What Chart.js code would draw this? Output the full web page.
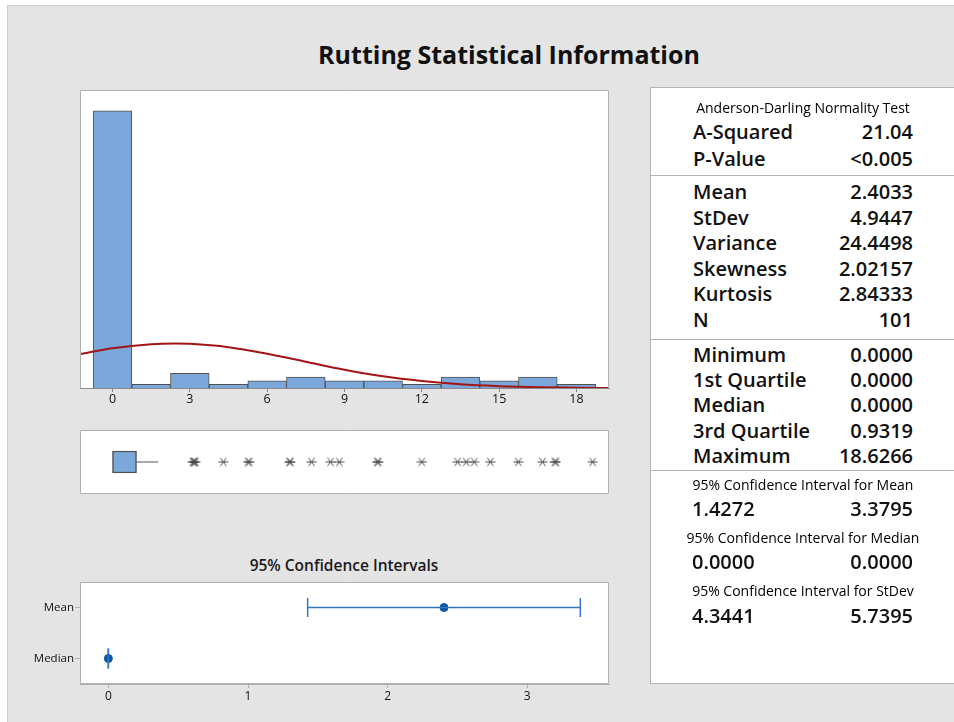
<!DOCTYPE html>
<html>
<head>
<meta charset="utf-8">
<title>Rutting Statistical Information</title>
<script src="https://cdn.jsdelivr.net/npm/chart.js@4.4.1/dist/chart.umd.min.js"></script>
<style>
  html, body { margin: 0; padding: 0; background: #fff; }
  body { position: relative; width: 954px; height: 722px; overflow: hidden; font-family: "Open Sans", sans-serif; color: #111; }
  #frame { position: absolute; left: 7px; top: 5px; width: 960px; height: 730px; background: #e4e4e4; border-left: 1px solid #cdcdcd; border-top: 1px solid #cdcdcd; }
  #title { position: absolute; left: 0; width: 1018px; top: 42px; text-align: center; font-size: 25px; font-weight: 700; line-height: 1; }
  #ciTitle { position: absolute; left: 144px; width: 400px; top: 558px; text-align: center; font-size: 15.5px; font-weight: 600; line-height: 1; color: #1a1a1a; }
  canvas { position: absolute; }
  #stats { position: absolute; left: 650px; top: 87px; width: 330px; height: 597px; box-sizing: border-box; background: #fff; border: 1px solid #b4b4b4; }
  .rule { position: absolute; left: 650px; width: 330px; height: 1px; background: #b4b4b4; }
  .stat { position: absolute; line-height: 1; white-space: nowrap; color: #000; }
  .big { font-weight: 600; color: #111; }
</style>
</head>
<body>
<div id="frame"></div>
<div id="title">Rutting Statistical Information</div>

<canvas id="histChart" width="550" height="340" style="left:70px; top:80px;"></canvas>
<canvas id="boxChart" width="550" height="75" style="left:70px; top:425px;"></canvas>
<div id="ciTitle">95% Confidence Intervals</div>
<canvas id="ciChart" width="620" height="135" style="left:0px; top:575px;"></canvas>

<div id="stats"></div>
<div class="rule" style="top:175px"></div>
<div class="rule" style="top:339px"></div>
<div class="rule" style="top:470px"></div>

<script>
// ---- summary numbers ----
const nObs = 101;
const mean = 2.4033;
const stDev = 4.9447;
const variance = 24.4498;
const skewness = 2.02157;
const kurtosis = 2.84333;
const aSquared = 21.04;
const pValue = '<0.005';
const minimum = 0.0;
const q1 = 0.0;
const median = 0.0;
const q3 = 0.9319;
const maximum = 18.6266;
const meanCI = [1.4272, 3.3795];
const medianCI = [0.0, 0.0];
const stDevCI = [4.3441, 5.7395];

// ---- histogram (bin width 1.5) ----
const binCenters = [0, 1.5, 3, 4.5, 6, 7.5, 9, 10.5, 12, 13.5, 15, 16.5, 18];
const binCounts = [76, 1, 4, 1, 2, 3, 2, 2, 1, 3, 2, 3, 1];
const histTicks = [0, 3, 6, 9, 12, 15, 18];

// fitted normal curve, in counts per bin
const fitX = [-1.26, 0, 1.5, 2.4, 3, 4.5, 6, 7.5, 9, 10.5, 12, 13.5, 15, 16.5, 18, 19.26];
const fitY = [9.3, 10.9, 12.0, 12.2, 12.1, 11.2, 9.4, 7.2, 5.0, 3.2, 1.9, 1.0, 0.5, 0.2, 0.1, 0.0];

// ---- boxplot ----
const whiskerHigh = 1.78;
const outliers = [3.12, 3.15, 3.18, 3.21, 4.30, 5.26, 5.30, 6.86, 6.90, 7.72, 8.46, 8.80,
                  10.27, 10.31, 12.00, 13.39, 13.72, 14.03, 14.66, 15.74, 16.68, 17.16, 17.20, maximum];

// ---- confidence interval plot ----
const ciRows = ['Mean', 'Median'];
const ciTicks = [0, 1, 2, 3];

const xRange = { min: -1.26, max: 19.26 };
const barBlue = '#7ba7da';
const edgeGrey = '#505050';
const frameGrey = '#b0b0b0';
const axisGrey = '#8a8a8a';

Chart.defaults.font.family = '"Open Sans", sans-serif';
Chart.defaults.color = '#111';

// white plot area with a thin frame, like the stats panel
const panelBox = {
  id: 'panelBox',
  beforeDraw(chart) {
    const a = chart.chartArea, ctx = chart.ctx;
    ctx.save();
    ctx.fillStyle = '#fff';
    ctx.fillRect(a.left, a.top, a.right - a.left, a.bottom - a.top);
    ctx.restore();
  },
  afterDraw(chart, args, opts) {
    const a = chart.chartArea, ctx = chart.ctx;
    ctx.save();
    ctx.strokeStyle = frameGrey;
    ctx.lineWidth = 1;
    ctx.beginPath();
    ctx.moveTo(a.left + 0.5, opts.closed ? a.bottom - 0.5 : a.bottom);
    ctx.lineTo(a.left + 0.5, a.top + 0.5);
    ctx.lineTo(a.right - 0.5, a.top + 0.5);
    ctx.lineTo(a.right - 0.5, opts.closed ? a.bottom - 0.5 : a.bottom);
    if (opts.closed) ctx.closePath();
    ctx.stroke();
    ctx.restore();
  }
};

// Minitab style asterisk for outliers
function makeAsterisk() {
  const c = document.createElement('canvas');
  c.width = 11; c.height = 11;
  const g = c.getContext('2d');
  g.strokeStyle = '#4a4a4a';
  g.lineWidth = 1;
  g.beginPath();
  g.moveTo(0.5, 5.5); g.lineTo(10.5, 5.5);
  g.moveTo(2.5, 1.5); g.lineTo(8.5, 9.5);
  g.moveTo(8.5, 1.5); g.lineTo(2.5, 9.5);
  g.stroke();
  return c;
}

const fixedTicks = list => scale => { scale.ticks = list.map(v => ({ value: v })); };

// ---- histogram with normal fit ----
new Chart(document.getElementById('histChart'), {
  type: 'bar',
  data: {
    datasets: [
      {
        type: 'line',
        data: fitX.map((x, i) => ({ x, y: fitY[i] })),
        borderColor: '#a31515',
        borderWidth: 2,
        pointRadius: 0,
        cubicInterpolationMode: 'monotone',
        order: 0
      },
      {
        type: 'bar',
        data: binCenters.map((x, i) => ({ x, y: binCounts[i] })),
        backgroundColor: barBlue,
        borderColor: edgeGrey,
        borderWidth: 1,
        barPercentage: 1,
        categoryPercentage: 1,
        order: 1
      }
    ]
  },
  options: {
    responsive: false,
    animation: false,
    devicePixelRatio: 1,
    layout: { autoPadding: false, padding: { left: 10, right: 11, top: 10, bottom: 0 } },
    plugins: { legend: { display: false }, tooltip: { enabled: false }, panelBox: { closed: false } },
    scales: {
      x: {
        type: 'linear',
        offset: false,
        min: xRange.min,
        max: xRange.max,
        afterBuildTicks: fixedTicks(histTicks),
        afterFit: s => { s.height = 32; },
        grid: { drawOnChartArea: false, offset: false, tickLength: 4, color: axisGrey },
        border: { color: axisGrey },
        ticks: { font: { size: 12.5 }, color: '#111', padding: 0 }
      },
      y: { display: false, min: 0, max: 81.7 }
    }
  },
  plugins: [panelBox]
});

// ---- boxplot ----
new Chart(document.getElementById('boxChart'), {
  type: 'bar',
  data: {
    labels: ['Rutting'],
    datasets: [
      {
        type: 'scatter',
        data: outliers.map(v => ({ x: v, y: 'Rutting' })),
        pointStyle: makeAsterisk(),
        pointRadius: 5,
        order: 0
      },
      {
        type: 'line',
        data: [{ x: q3, y: 'Rutting' }, { x: whiskerHigh, y: 'Rutting' }],
        borderColor: '#555',
        borderWidth: 1,
        pointRadius: 0,
        order: 1
      },
      {
        type: 'bar',
        data: [[q1, q3]],
        backgroundColor: barBlue,
        borderColor: edgeGrey,
        borderWidth: 1.5,
        borderSkipped: false,
        barThickness: 22,
        order: 2
      }
    ]
  },
  options: {
    indexAxis: 'y',
    responsive: false,
    animation: false,
    devicePixelRatio: 1,
    layout: { autoPadding: false, padding: { left: 10, right: 11, top: 5, bottom: 6 } },
    plugins: { legend: { display: false }, tooltip: { enabled: false }, panelBox: { closed: true } },
    scales: {
      x: { type: 'linear', offset: false, min: xRange.min, max: xRange.max, display: false },
      y: { type: 'category', display: false }
    }
  },
  plugins: [panelBox]
});

// ---- 95% confidence intervals ----
const ciBlue = '#3576c4';
const capStyle = { pointStyle: 'line', rotation: 90, pointRadius: 9.5, pointBorderColor: ciBlue, pointBorderWidth: 1.5 };

new Chart(document.getElementById('ciChart'), {
  type: 'line',
  data: {
    datasets: [
      Object.assign({ data: meanCI.map(x => ({ x, y: 'Mean' })), borderColor: ciBlue, borderWidth: 1.5 }, capStyle),
      Object.assign({ data: medianCI.map(x => ({ x, y: 'Median' })), borderColor: ciBlue, borderWidth: 1.5 }, capStyle, { pointRadius: 10 }),
      {
        type: 'scatter',
        data: [{ x: mean, y: 'Mean' }, { x: median, y: 'Median' }],
        pointStyle: 'circle',
        pointRadius: 4,
        backgroundColor: '#0b56a3',
        borderColor: '#0b56a3'
      }
    ]
  },
  options: {
    responsive: false,
    animation: false,
    devicePixelRatio: 1,
    layout: { autoPadding: false, padding: { left: 0, right: 11, top: 7, bottom: 0 } },
    plugins: { legend: { display: false }, tooltip: { enabled: false }, panelBox: { closed: true } },
    scales: {
      x: {
        type: 'linear',
        min: -0.203,
        max: 3.585,
        afterBuildTicks: fixedTicks(ciTicks),
        afterFit: s => { s.height = 26; s.paddingLeft = 0; s.paddingRight = 0; },
        grid: { drawOnChartArea: false, tickLength: 4, color: frameGrey },
        border: { color: frameGrey },
        ticks: { font: { size: 12 }, color: '#111', padding: 1 }
      },
      y: {
        type: 'category',
        labels: ciRows,
        offset: true,
        afterFit: s => { s.width = 80; s.paddingTop = 0; s.paddingBottom = 0; },
        grid: { drawOnChartArea: false, offset: false, tickLength: 5, color: frameGrey },
        border: { color: frameGrey },
        ticks: { font: { size: 11.5 }, color: '#111', padding: 1 }
      }
    }
  },
  plugins: [panelBox]
});

// ---- statistics panel ----
const colLeft = 692, colRight = 913, colMid = 803;
const bigSize = 20, smallSize = 14;

function putText(text, x, baseline, size, align, cls) {
  const el = document.createElement('div');
  el.className = 'stat' + (cls ? ' ' + cls : '');
  el.textContent = text;
  el.style.fontSize = size + 'px';
  el.style.top = (baseline - 0.888 * size) + 'px';
  if (align === 'right') {
    el.style.right = (954 - x) + 'px';
  } else if (align === 'center') {
    el.style.left = (x - 200) + 'px';
    el.style.width = '400px';
    el.style.textAlign = 'center';
  } else {
    el.style.left = x + 'px';
  }
  document.body.appendChild(el);
}

function putRows(rows, firstBaseline, step) {
  rows.forEach((r, i) => {
    putText(r[0], colLeft + 1, firstBaseline + i * step, bigSize, 'left', 'big');
    putText(r[1], colRight, firstBaseline + i * step, bigSize, 'right', 'big');
  });
}

const adRows = [['A-Squared', aSquared.toFixed(2)], ['P-Value', pValue]];
const momentRows = [
  ['Mean', mean.toFixed(4)],
  ['StDev', stDev.toFixed(4)],
  ['Variance', variance.toFixed(4)],
  ['Skewness', skewness.toFixed(5)],
  ['Kurtosis', kurtosis.toFixed(5)],
  ['N', String(nObs)]
];
const quantileRows = [
  ['Minimum', minimum.toFixed(4)],
  ['1st Quartile', q1.toFixed(4)],
  ['Median', median.toFixed(4)],
  ['3rd Quartile', q3.toFixed(4)],
  ['Maximum', maximum.toFixed(4)]
];
const ciBlocks = [
  ['95% Confidence Interval for Mean', meanCI],
  ['95% Confidence Interval for Median', medianCI],
  ['95% Confidence Interval for StDev', stDevCI]
];

putText('Anderson-Darling Normality Test', colMid, 113.3, smallSize, 'center');
putRows(adRows, 140, 26.5);
putRows(momentRows, 200, 25.5);
putRows(quantileRows, 362.3, 25.4);
ciBlocks.forEach((b, i) => {
  const top = 490 + i * 53.3;
  putText(b[0], colMid, top, smallSize, 'center');
  putText(b[1][0].toFixed(4), colLeft, top + 26.7, bigSize, 'left', 'big');
  putText(b[1][1].toFixed(4), colRight, top + 26.7, bigSize, 'right', 'big');
});
</script>
</body>
</html>
